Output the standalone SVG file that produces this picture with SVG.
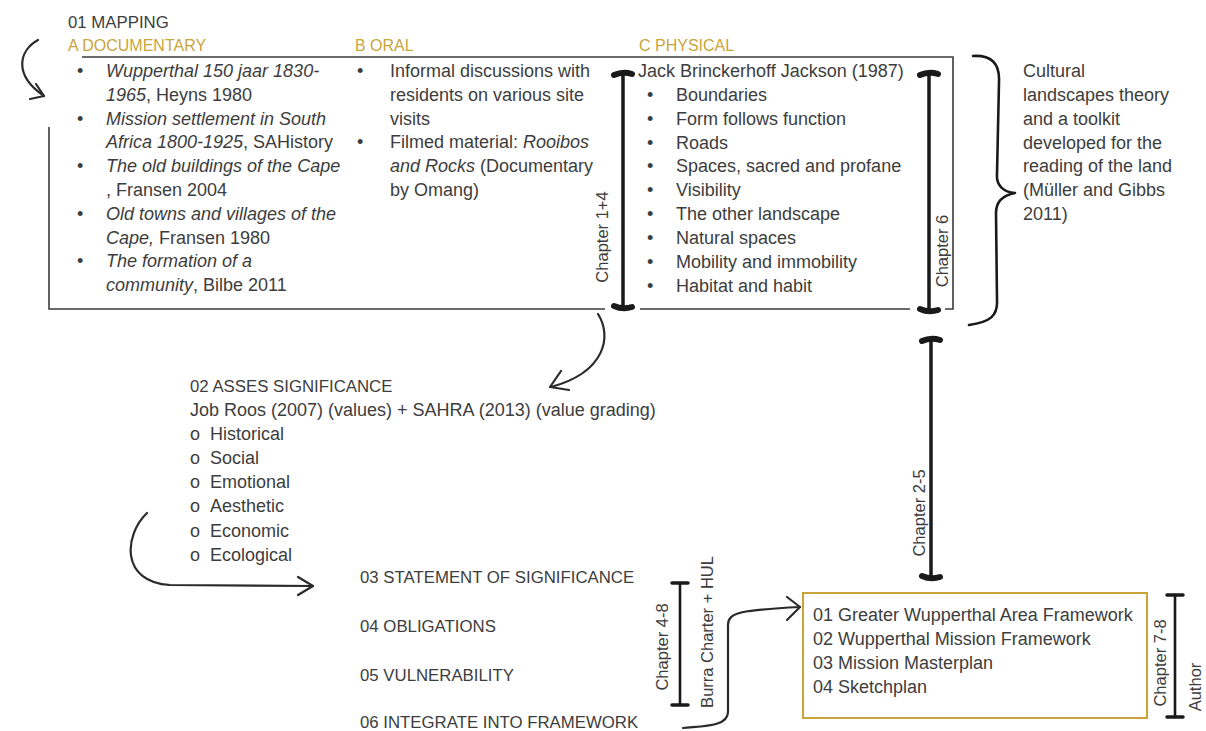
<svg xmlns="http://www.w3.org/2000/svg" width="1206" height="731" viewBox="0 0 1206 731">
<style>
text{font-family:"Liberation Sans",Arial,sans-serif;fill:#3d3d3d;}
.b{font-size:18px;}
.h{font-size:16.8px;}
.g{font-size:16px;fill:#c9a53c;}
.r{font-size:16.5px;}
.i{font-style:italic;}
.box{fill:none;stroke:#3a3a3a;stroke-width:1.6;}
.gold{fill:none;stroke:#c9a43b;stroke-width:2;}
.arr{fill:none;stroke:#2a2a2a;stroke-width:2.2;stroke-linecap:round;stroke-linejoin:round;}
.brk{fill:none;stroke:#1a1a1a;stroke-width:3.5;stroke-linecap:round;}
.cap{fill:none;stroke:#1a1a1a;stroke-width:6;stroke-linecap:round;}
.brk2{fill:none;stroke:#1a1a1a;stroke-width:2.6;stroke-linecap:round;}
.cap2{fill:none;stroke:#1a1a1a;stroke-width:3.5;stroke-linecap:round;}
.brace{fill:none;stroke:#1a1a1a;stroke-width:2.6;stroke-linecap:round;stroke-linejoin:round;}
</style>

<g id="mapping">
  <text class="h" x="68" y="28">01 MAPPING</text>
  <text class="g" x="68" y="51">A DOCUMENTARY</text>
  <text class="g" x="355" y="51">B ORAL</text>
  <text class="g" x="639" y="51">C PHYSICAL</text>
  <path class="box" d="M82,57 H953 V309 H945 M910,309 H640 M605,309 H49 V127"/>
</g>

<g id="documentary">
  <text class="b" x="77" y="77">•</text><text class="b i" x="106" y="77">Wupperthal 150 jaar 1830-</text>
  <text class="b" x="106" y="101"><tspan class="i">1965</tspan>, Heyns 1980</text>
  <text class="b" x="77" y="125">•</text><text class="b i" x="106" y="125">Mission settlement in South</text>
  <text class="b" x="106" y="148"><tspan class="i">Africa 1800-1925</tspan>, SAHistory</text>
  <text class="b" x="77" y="172">•</text><text class="b i" x="106" y="172">The old buildings of the Cape</text>
  <text class="b" x="106" y="196">, Fransen 2004</text>
  <text class="b" x="77" y="220">•</text><text class="b i" x="106" y="220">Old towns and villages of the</text>
  <text class="b" x="106" y="244"><tspan class="i">Cape,</tspan> Fransen 1980</text>
  <text class="b" x="77" y="267">•</text><text class="b i" x="106" y="267">The formation of a</text>
  <text class="b" x="106" y="291"><tspan class="i">community</tspan>, Bilbe 2011</text>
</g>

<g id="oral">
  <text class="b" x="357" y="77">•</text><text class="b" x="390" y="77">Informal discussions with</text>
  <text class="b" x="390" y="101">residents on various site</text>
  <text class="b" x="390" y="125">visits</text>
  <text class="b" x="357" y="148">•</text><text class="b" x="390" y="148">Filmed material: <tspan class="i">Rooibos</tspan></text>
  <text class="b" x="390" y="172"><tspan class="i">and Rocks</tspan> (Documentary</text>
  <text class="b" x="390" y="196">by Omang)</text>
</g>

<g id="physical">
  <text class="b" x="638" y="77">Jack Brinckerhoff Jackson (1987)</text>
  <text class="b" x="647" y="101">•</text><text class="b" x="676" y="101">Boundaries</text>
  <text class="b" x="647" y="125">•</text><text class="b" x="676" y="125">Form follows function</text>
  <text class="b" x="647" y="149">•</text><text class="b" x="676" y="149">Roads</text>
  <text class="b" x="647" y="172">•</text><text class="b" x="676" y="172">Spaces, sacred and profane</text>
  <text class="b" x="647" y="196">•</text><text class="b" x="676" y="196">Visibility</text>
  <text class="b" x="647" y="220">•</text><text class="b" x="676" y="220">The other landscape</text>
  <text class="b" x="647" y="244">•</text><text class="b" x="676" y="244">Natural spaces</text>
  <text class="b" x="647" y="268">•</text><text class="b" x="676" y="268">Mobility and immobility</text>
  <text class="b" x="647" y="292">•</text><text class="b" x="676" y="292">Habitat and habit</text>
</g>

<g id="theory">
  <text class="b" x="1023" y="77">Cultural</text>
  <text class="b" x="1023" y="101">landscapes theory</text>
  <text class="b" x="1023" y="125">and a toolkit</text>
  <text class="b" x="1023" y="149">developed for the</text>
  <text class="b" x="1023" y="172">reading of the land</text>
  <text class="b" x="1023" y="196">(Müller and Gibbs</text>
  <text class="b" x="1023" y="220">2011)</text>
</g>

<g id="assess">
  <text class="h" x="190" y="392">02 ASSES SIGNIFICANCE</text>
  <text class="b" x="190" y="416">Job Roos (2007) (values) + SAHRA (2013) (value grading)</text>
  <text class="b" x="190" y="440">o</text><text class="b" x="210" y="440">Historical</text>
  <text class="b" x="190" y="464">o</text><text class="b" x="210" y="464">Social</text>
  <text class="b" x="190" y="488">o</text><text class="b" x="210" y="488">Emotional</text>
  <text class="b" x="190" y="512">o</text><text class="b" x="210" y="512">Aesthetic</text>
  <text class="b" x="190" y="537">o</text><text class="b" x="210" y="537">Economic</text>
  <text class="b" x="190" y="561">o</text><text class="b" x="210" y="561">Ecological</text>
</g>

<g id="steps">
  <text class="h" x="360" y="583">03 STATEMENT OF SIGNIFICANCE</text>
  <text class="h" x="360" y="632">04 OBLIGATIONS</text>
  <text class="h" x="360" y="681">05 VULNERABILITY</text>
  <text class="h" x="360" y="728">06 INTEGRATE INTO FRAMEWORK</text>
</g>

<g id="framework">
  <rect class="gold" x="803" y="593" width="344" height="125"/>
  <text class="b" x="813" y="621">01 Greater Wupperthal Area Framework</text>
  <text class="b" x="813" y="645">02 Wupperthal Mission Framework</text>
  <text class="b" x="813" y="669">03 Mission Masterplan</text>
  <text class="b" x="813" y="693">04 Sketchplan</text>
</g>

<g id="labels">
  <text class="r" text-anchor="middle" transform="translate(608,237) rotate(-90)">Chapter 1+4</text>
  <text class="r" text-anchor="middle" transform="translate(948,251) rotate(-90)">Chapter 6</text>
  <text class="r" text-anchor="middle" transform="translate(925,513) rotate(-90)">Chapter 2-5</text>
  <text class="r" text-anchor="middle" transform="translate(668,647) rotate(-90)">Chapter 4-8</text>
  <text class="r" text-anchor="middle" transform="translate(713,632) rotate(-90)">Burra Charter + HUL</text>
  <text class="r" text-anchor="middle" transform="translate(1166,663) rotate(-90)">Chapter 7-8</text>
  <text class="r" text-anchor="middle" transform="translate(1201,687) rotate(-90)">Author</text>
</g>

<g id="connectors">
  <path class="arr" d="M38,40 C20,50 12,74 44,96"/>
  <path class="arr" d="M36,84 L44,96 L30,99"/>
  <path class="arr" d="M598,314 C612,336 606,372 551,387"/>
  <path class="arr" d="M561,371 L550,387 L569,390"/>
  <path class="arr" d="M147,513 C124,535 120,582 170,585 L313,586"/>
  <path class="arr" d="M298,577 L313,586 L298,595"/>
  <path class="arr" d="M683,728 C702,726 728,727 728,712 L728,625 C728,612 742,610 800,607"/>
  <path class="arr" d="M787,597 L800,607 L787,620"/>
  <path class="brace" d="M973,56 C991,55 1000,63 999,82 L997,174 C996,186 1004,192 1015,193 C1004,195 996,201 996,213 L997,300 C998,316 990,322 969,325"/>
  <path class="brk" d="M623,73 V307"/>
  <path class="cap" d="M614,75 Q623,71 632,74 M614,306 Q623,310 632,307"/>
  <path class="brk" d="M929,73 V310"/>
  <path class="cap" d="M920,75 Q929,71 938,74 M920,309 Q929,313 938,310"/>
  <path class="brk" d="M931,339 V577"/>
  <path class="cap" d="M922,341 Q931,337 940,340 M922,576 Q931,580 940,577"/>
  <path class="brk2" d="M680,583 V705"/>
  <path class="cap2" d="M672,583 H688 M672,705 H688"/>
  <path class="brk2" d="M1175,595 V717"/>
  <path class="cap2" d="M1167,595 H1183 M1167,717 H1183"/>
</g>
</svg>
